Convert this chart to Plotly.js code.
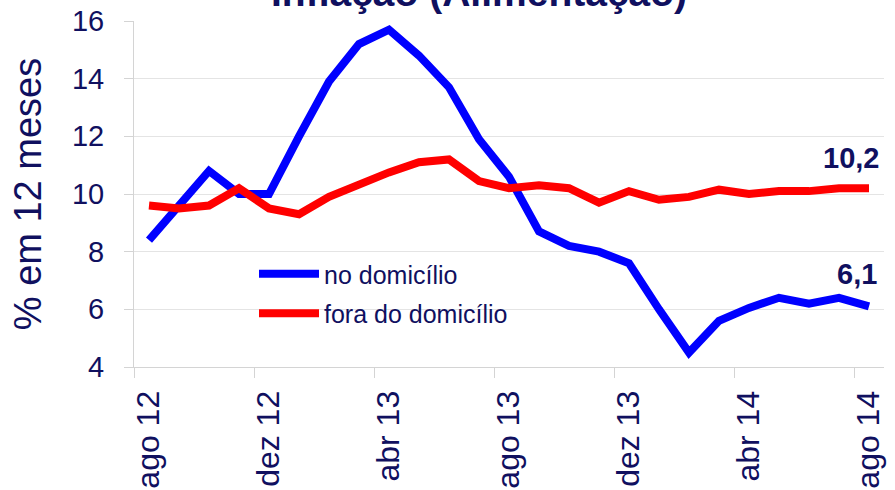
<!DOCTYPE html>
<html>
<head>
<meta charset="utf-8">
<script src="https://cdn.plot.ly/plotly-3.0.1.min.js"></script>
<style>html,body{margin:0;padding:0;background:#fff;}#chart{width:895px;height:490px;}</style>
</head>
<body>
<div id="chart"></div>
<script>
const months = ["ago 12","set 12","out 12","nov 12","dez 12","jan 13","fev 13","mar 13","abr 13","mai 13","jun 13","jul 13","ago 13","set 13","out 13","nov 13","dez 13","jan 14","fev 14","mar 14","abr 14","mai 14","jun 14","jul 14","ago 14"];
const noDomicilio = [8.4, 9.6, 10.8, 10.0, 10.0, 12.0, 13.9, 15.2, 15.7, 14.8, 13.7, 11.9, 10.6, 8.7, 8.2, 8.0, 7.6, 6.0, 4.5, 5.6, 6.05, 6.4, 6.2, 6.4, 6.1];
const foraDomicilio = [9.6, 9.5, 9.6, 10.2, 9.5, 9.3, 9.9, 10.35, 10.75, 11.1, 11.2, 10.45, 10.2, 10.3, 10.2, 9.7, 10.1, 9.8, 9.9, 10.15, 10.0, 10.1, 10.1, 10.2, 10.2];
const seriesNames = ["no domicílio", "fora do domicílio"];
const titleText = "Inflação (Alimentação)";
const yTitle = "% em 12 meses";

const navy = "#10105f";
const idx = months.map((_, i) => i);
const labelIdx = idx.filter(i => i % 4 === 0);
const boundaryIdx = labelIdx.map(i => i - 0.5);
const last = months.length - 1;
const fmt = v => v.toFixed(1).replace('.', ',');

const traces = [
  {x: idx, y: noDomicilio, name: seriesNames[0], type: 'scatter', mode: 'lines',
   line: {color: '#0000ff', width: 8}, legendgroup: 'a'},
  {x: idx, y: foraDomicilio, name: seriesNames[1], type: 'scatter', mode: 'lines',
   line: {color: '#ff0000', width: 8}, legendgroup: 'b'}
];

const layout = {
  width: 895, height: 490,
  margin: {l: 134, r: 11, t: 21, b: 123},
  paper_bgcolor: '#fff', plot_bgcolor: '#fff',
  font: {family: 'Liberation Sans, Arial, sans-serif', color: navy},
  showlegend: true,
  legend: {x: 0.16, y: 0.335, xanchor: 'left', yanchor: 'top', bgcolor: 'rgba(0,0,0,0)',
           font: {size: 25, color: navy}, tracegroupgap: 4, itemwidth: 60},
  xaxis: {
    range: [-0.5, months.length - 0.5], showgrid: false, zeroline: false,
    tickmode: 'array', tickvals: labelIdx, ticktext: labelIdx.map(i => months[i]),
    tickangle: -90, ticks: '', ticklabelstandoff: 10,
    tickfont: {size: 32, color: navy},
    showline: true, linecolor: '#d4d4d4', linewidth: 1,
    minor: {tickmode: 'array', tickvals: boundaryIdx, ticks: 'outside', ticklen: 10,
            tickcolor: '#d4d4d4', tickwidth: 1, showgrid: false}
  },
  yaxis: {
    range: [4, 16], dtick: 2, tick0: 4, zeroline: false,
    showgrid: true, gridcolor: '#e4e4e4', gridwidth: 1,
    ticks: 'outside', ticklen: 9, tickcolor: '#d4d4d4',
    tickfont: {size: 29, color: navy}, ticklabelstandoff: 14,
    showline: true, linecolor: '#d4d4d4', linewidth: 1,
    title: {text: yTitle, font: {size: 38, color: navy}, standoff: 18}
  },
  annotations: [
    {xref: 'paper', yref: 'paper', x: 0.46, y: 1, xanchor: 'center', yanchor: 'bottom', yshift: 5,
     text: '<b>' + titleText + '</b>', showarrow: false, font: {size: 39, color: navy}},
    {xref: 'x', yref: 'y', x: last, y: foraDomicilio[last], xanchor: 'right', yanchor: 'bottom',
     xshift: 12, yshift: 12, text: '<b>' + fmt(foraDomicilio[last]) + '</b>', showarrow: false,
     font: {size: 29, color: navy}},
    {xref: 'x', yref: 'y', x: last, y: noDomicilio[last], xanchor: 'right', yanchor: 'bottom',
     xshift: 10, yshift: 14, text: '<b>' + fmt(noDomicilio[last]) + '</b>', showarrow: false,
     font: {size: 29, color: navy}}
  ]
};

Plotly.newPlot('chart', traces, layout, {displayModeBar: false, staticPlot: true});
</script>
</body>
</html>
